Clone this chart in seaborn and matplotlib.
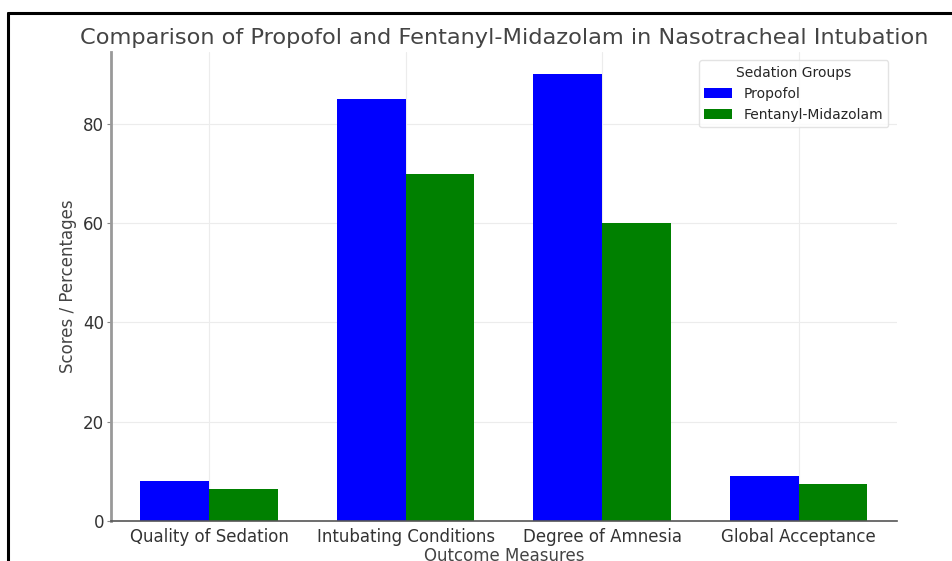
import pandas as pd
import matplotlib.pyplot as plt
import seaborn as sns
from matplotlib.lines import Line2D

categories = ["Quality of Sedation", "Intubating Conditions", "Degree of Amnesia", "Global Acceptance"]
propofol = [8, 85, 90, 9]
fent_mid = [6.5, 70, 60, 7.5]
groups = ["Propofol", "Fentanyl-Midazolam"]

df = pd.DataFrame({
    "Outcome": categories * 2,
    "Value": propofol + fent_mid,
    "Group": [groups[0]] * 4 + [groups[1]] * 4,
})

sns.set_style("whitegrid", {"grid.color": "#ececec", "axes.edgecolor": "#888888"})
plt.rcParams["font.family"] = ["DejaVu Sans"]

fig = plt.figure(figsize=(9.53, 5.61), dpi=100)
ax = fig.add_axes([0.1165, 0.0713, 0.8245, 0.836])

sns.barplot(data=df, x="Outcome", y="Value", hue="Group", palette=["blue", "green"],
            width=0.7, saturation=1, linewidth=0, ax=ax)

ax.set_ylim(0, 94.5)
ax.set_yticks([0, 20, 40, 60, 80])
ax.xaxis.grid(True)
ax.set_axisbelow(True)
ax.set_title("Comparison of Propofol and Fentanyl-Midazolam in Nasotracheal Intubation",
             fontsize=16.2, color="#444444", pad=6)
ax.set_xlabel("Outcome Measures", fontsize=12, color="#444444", labelpad=1)
ax.set_ylabel("Scores / Percentages", fontsize=12, color="#444444")
ax.tick_params(axis="both", labelsize=12, labelcolor="#333333", length=3, color="#888888", pad=2)
ax.tick_params(axis="y", left=True)
for s in ["top", "right"]:
    ax.spines[s].set_visible(False)
ax.spines["left"].set_color("#999999")
ax.spines["left"].set_linewidth(2)
ax.spines["bottom"].set_color("#555555")
ax.spines["bottom"].set_linewidth(1.2)

leg = ax.legend(title="Sedation Groups", loc="upper right", fontsize=10, title_fontsize=10,
                frameon=True, borderaxespad=0.6)
leg.get_frame().set_edgecolor("#dddddd")

# screenshot frame
fig.add_artist(Line2D([0.0085, 1.0], [1 - 12.5 / 561, 1 - 12.5 / 561], color="black", lw=2.2,
                      transform=fig.transFigure))
fig.add_artist(Line2D([0.0085, 0.0085], [0, 1 - 12.5 / 561], color="black", lw=2.2,
                      transform=fig.transFigure))

fig.savefig("out.png", dpi=100)
